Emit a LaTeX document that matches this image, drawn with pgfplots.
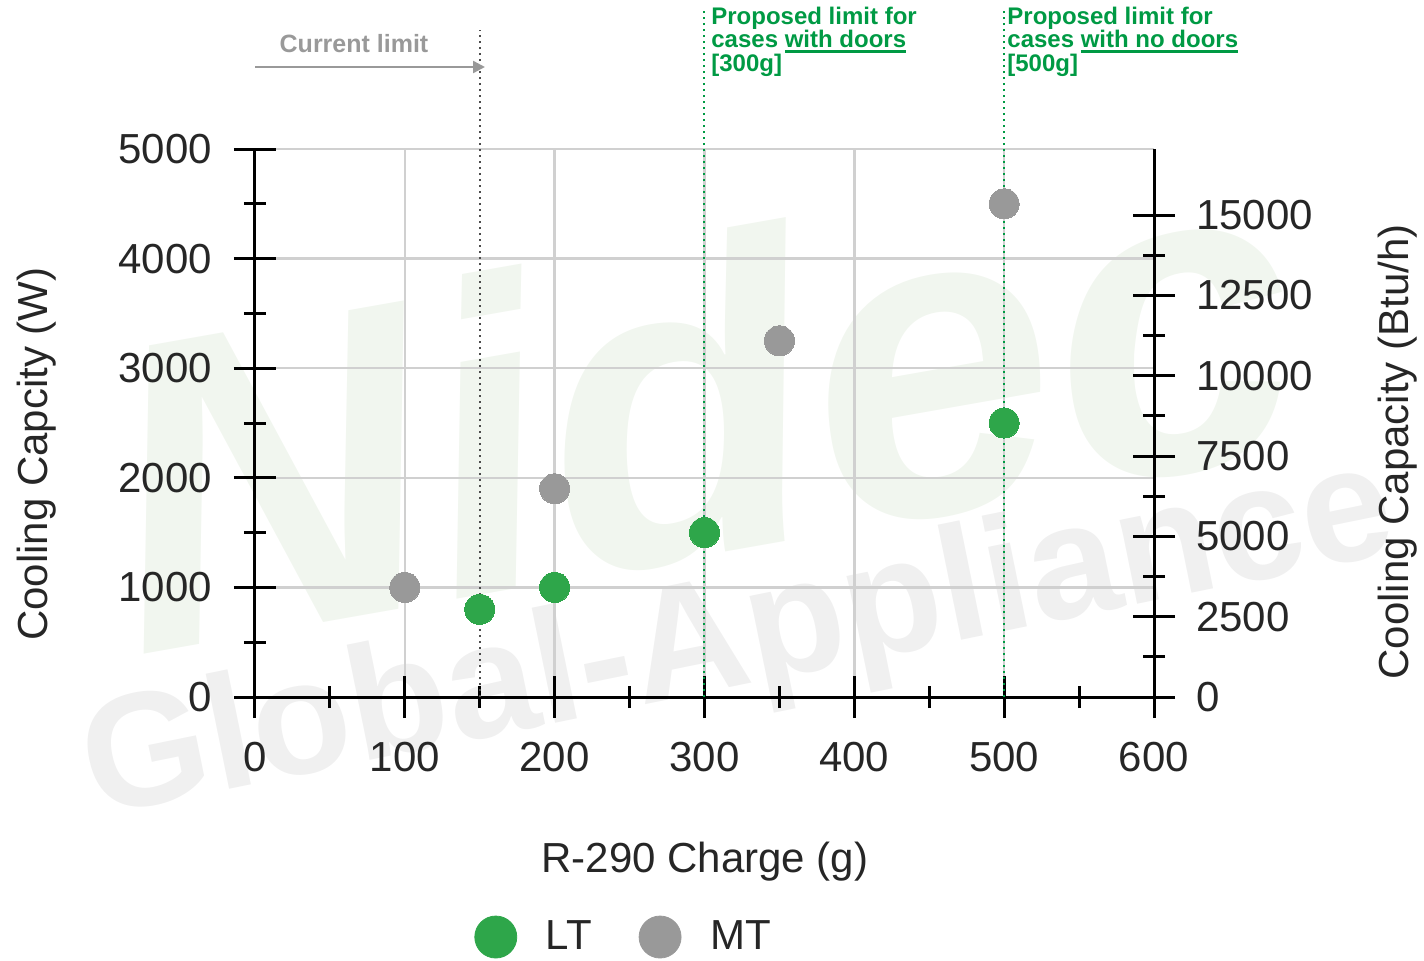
\documentclass[border=0pt]{standalone}
\usepackage{fontspec}
\setmainfont{Liberation Sans}
\usepackage{pgfplots}
\usepackage{pgfplotstable}
\pgfplotsset{compat=1.18}
\usetikzlibrary{arrows.meta}
\definecolor{ltgreen}{RGB}{46,166,74}
\definecolor{mtgray}{RGB}{153,153,153}
\definecolor{txtgreen}{RGB}{0,154,68}
\definecolor{gridgray}{RGB}{208,208,208}
\definecolor{wmgreen}{RGB}{241,246,239}
\definecolor{wmgray}{RGB}{240,240,240}
\newcommand\ul[1]{\setbox0\hbox{#1}\rlap{\rule[-2.3pt]{\wd0}{1.1pt}}\box0}

\pgfplotstableread{
x y
150 800
200 1000
300 1500
500 2500
}\ltdata
\pgfplotstableread{
x y
100 1000
200 1900
350 3250
500 4500
}\mtdata

\pgfplotsset{
  myaxis/.style={
    at={(0pt,0pt)}, anchor=south west, scale only axis,
    width=449.5pt, height=274pt,
    tick align=center, major tick length=21pt, minor tick length=11pt,
    tick style={line width=1.5pt,black},
    ticklabel style={font=\fontsize{21}{21}\selectfont, text=black!85},
    /pgf/number format/assume math mode=true,
    /pgf/number format/set thousands separator={},
    scaled ticks=false,
  }
}

\begin{document}
\begin{tikzpicture}
\path[use as bounding box] (-127.5pt,-131.5pt) rectangle (584.5pt,348.5pt);
% watermark
\node[rotate=10, text=wmgreen, font=\bfseries\itshape\fontsize{220}{220}\selectfont] at (222pt,150pt) {Nidec};
\node[rotate=11.5, text=wmgray, font=\bfseries\fontsize{81}{81}\selectfont] at (242pt,27pt) {Global-Appliance};

\begin{axis}[myaxis,
  xmin=0, xmax=600, ymin=0, ymax=5000, clip=false,
  axis x line=bottom, axis y line=left,
  axis line style={line width=1.5pt,black,-},
  xtick={0,100,...,600}, ytick={0,1000,...,5000},
  minor x tick num=1, minor y tick num=1,
  xticklabel style={yshift=-8.5pt},
  yticklabel style={xshift=-7.5pt},
  grid=major, major grid style={line width=1.2pt,gridgray},
  legend columns=2,
  legend style={at={(0.2436,-0.438)}, anchor=west, draw=none, fill=none,
    inner sep=0pt, column sep=0pt,
    font=\fontsize{21}{21}\selectfont, text=black!85,
    nodes={inner sep=0pt},
    /tikz/every even column/.append style={column sep=23.5pt}},
]
\addplot[only marks, mark=*, mark size=7.5pt, mark options={fill=ltgreen, draw=ltgreen, line width=0pt},
  legend image code/.code={\fill[ltgreen] (10.5pt,0pt) circle (10.5pt); \path[draw=none] (0pt,0pt) -- (35.5pt,0pt);}]
  table {\ltdata};
\addlegendentry{LT}
\addplot[only marks, mark=*, mark size=7.5pt, mark options={fill=mtgray, draw=mtgray, line width=0pt},
  legend image code/.code={\fill[mtgray] (10.5pt,0pt) circle (10.5pt); \path[draw=none] (0pt,0pt) -- (35.5pt,0pt);}]
  table {\mtdata};
\addlegendentry{MT}
\draw[dotted, line width=1pt, black!70] (axis cs:150,0) -- (axis cs:150,6086);
\draw[dotted, line width=1pt, txtgreen] (axis cs:300,0) -- (axis cs:300,6286);
\draw[dotted, line width=1pt, txtgreen] (axis cs:500,0) -- (axis cs:500,6286);
\end{axis}

\begin{axis}[myaxis,
  xmin=0, xmax=600, ymin=0, ymax=17060.7,
  axis x line=none, axis y line*=right,
  axis line style={line width=1.5pt,black,-},
  ytick={0,2500,...,15000}, minor y tick num=1,
  yticklabel style={xshift=7pt},
]
\addplot[draw=none] coordinates {(0,0)};
\end{axis}

% labels
\node[rotate=90, font=\fontsize{21}{21}\selectfont, text=black!85] at (-109pt,121.5pt) {Cooling Capcity (W)};
\node[rotate=90, font=\fontsize{21}{21}\selectfont, text=black!85] at (571.5pt,122.5pt) {Cooling Capacity (Btu/h)};
\node[font=\fontsize{21}{21}\selectfont, text=black!85] at (225pt,-82.5pt) {R-290 Charge (g)};

% annotations
\draw[-{Triangle[length=6pt,width=6pt]}, line width=1.2pt, mtgray] (0pt,315pt) -- (115pt,315pt);
\node[text=mtgray, font=\bfseries\fontsize{12.5}{12.5}\selectfont] at (49.5pt,326.5pt) {Current limit};
\begin{scope}[every node/.style={anchor=base west, inner sep=0pt, text=txtgreen, font=\bfseries\fontsize{12}{12}\selectfont}]
\node at (228pt,336.25pt) {Proposed limit for};
\node at (228pt,324.5pt) {cases \ul{with doors}};
\node at (228pt,312.75pt) {[300g]};
\node at (376pt,336.25pt) {Proposed limit for};
\node at (376pt,324.5pt) {cases \ul{with no doors}};
\node at (376pt,312.75pt) {[500g]};
\end{scope}
\end{tikzpicture}
\end{document}
